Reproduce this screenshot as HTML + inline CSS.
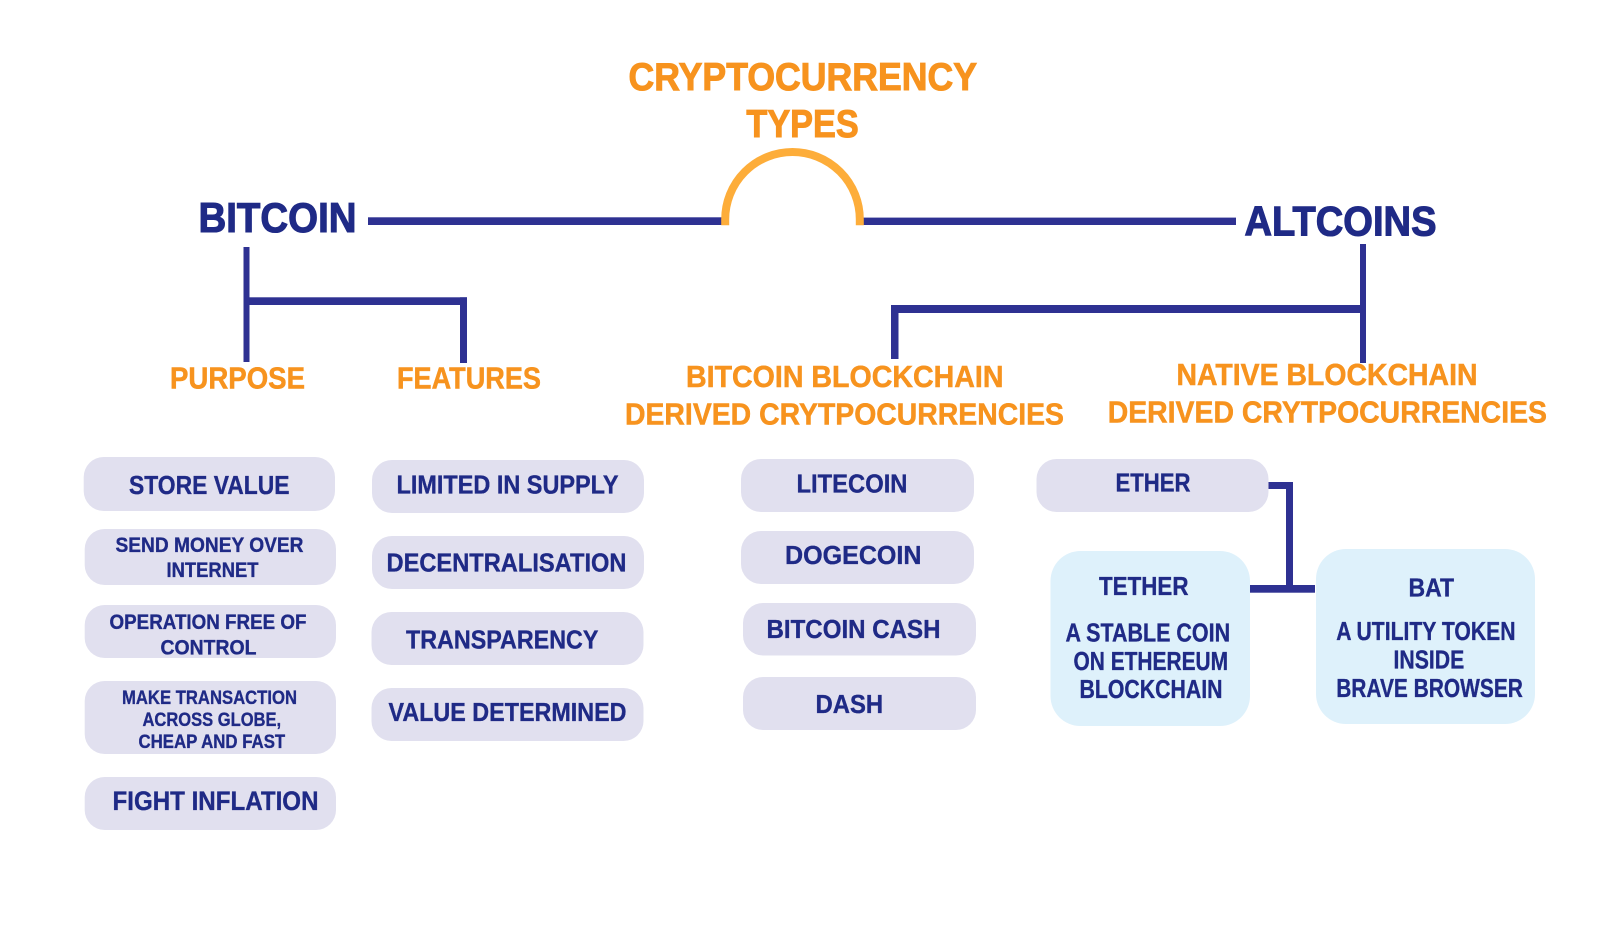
<!DOCTYPE html>
<html lang="en">
<head>
<meta charset="utf-8">
<title>Cryptocurrency Types</title>
<style>
html,body{margin:0;padding:0;background:#fff;}
svg{display:block;}
text{font-family:"Liberation Sans",sans-serif;font-weight:bold;paint-order:stroke;}
.o{fill:#f7931e;stroke:#f7931e;stroke-width:.5;}
.n{fill:#1f2a86;stroke:#1f2a86;stroke-width:.35;}
.h{stroke-width:1.1;}
.t{stroke-width:1;}
.l{fill:#2e3192;}
.p{fill:#e1e0ef;}
.b{fill:#def1fb;}
</style>
</head>
<body>
<svg width="1600" height="941" viewBox="0 0 1600 941" xmlns="http://www.w3.org/2000/svg">
<rect width="1600" height="941" fill="#ffffff"/>

<!-- connectors -->
<rect class="l" x="368" y="217.3" width="354" height="7.7"/>
<rect class="l" x="862" y="217.6" width="374" height="7.4"/>
<path d="M725.2 225.3V219.3A67.3 67.3 0 0 1 859.8 219.3V225.3" fill="none" stroke="#fdad3a" stroke-width="8"/>

<rect class="l" x="243.5" y="247" width="6" height="115"/>
<rect class="l" x="249" y="297.3" width="218" height="7.7"/>
<rect class="l" x="460" y="297.3" width="7" height="65.7"/>

<rect class="l" x="1360" y="244" width="6" height="119"/>
<rect class="l" x="891" y="305" width="469" height="8"/>
<rect class="l" x="891" y="305" width="7.5" height="54"/>

<rect class="l" x="1268" y="482" width="25" height="7"/>
<rect class="l" x="1286" y="482" width="7" height="103"/>
<rect class="l" x="1250" y="585" width="65" height="7.7"/>

<!-- pills -->
<rect class="p" x="83.7" y="457" width="251.3" height="54" rx="20"/>
<rect class="p" x="84.7" y="529" width="251.3" height="56" rx="20"/>
<rect class="p" x="84.7" y="605" width="251.3" height="53" rx="20"/>
<rect class="p" x="84.7" y="681" width="251.3" height="73" rx="20"/>
<rect class="p" x="84.7" y="777" width="251.3" height="53" rx="20"/>

<rect class="p" x="372" y="460" width="272" height="53" rx="20"/>
<rect class="p" x="372" y="536" width="272" height="53" rx="20"/>
<rect class="p" x="371.5" y="612" width="272" height="53" rx="20"/>
<rect class="p" x="371.5" y="688" width="272" height="53" rx="20"/>

<rect class="p" x="741" y="459" width="233" height="53" rx="20"/>
<rect class="p" x="741" y="531" width="233" height="53" rx="20"/>
<rect class="p" x="743" y="603" width="233" height="52.5" rx="20"/>
<rect class="p" x="743" y="677" width="233" height="53" rx="20"/>

<rect class="p" x="1036.5" y="459" width="232" height="53" rx="20"/>

<rect class="b" x="1050.5" y="551" width="199.5" height="175" rx="30"/>
<rect class="b" x="1316" y="549" width="219" height="175" rx="30"/>

<!-- headings -->
<text class="o t" x="628.5" y="90" font-size="39" textLength="348.5" lengthAdjust="spacingAndGlyphs">CRYPTOCURRENCY</text>
<text class="o t" x="746.4" y="137" font-size="39" textLength="112.3" lengthAdjust="spacingAndGlyphs">TYPES</text>

<text class="n h" x="198.5" y="232" font-size="42" textLength="158" lengthAdjust="spacingAndGlyphs">BITCOIN</text>
<text class="n h" x="1244.5" y="235.5" font-size="42" textLength="192" lengthAdjust="spacingAndGlyphs">ALTCOINS</text>

<text class="o" x="170" y="388.5" font-size="31" textLength="135" lengthAdjust="spacingAndGlyphs">PURPOSE</text>
<text class="o" x="397" y="388.5" font-size="31" textLength="144" lengthAdjust="spacingAndGlyphs">FEATURES</text>
<text class="o" x="686" y="387" font-size="31" textLength="317.5" lengthAdjust="spacingAndGlyphs">BITCOIN BLOCKCHAIN</text>
<text class="o" x="625" y="424.5" font-size="31" textLength="439" lengthAdjust="spacingAndGlyphs">DERIVED CRYTPOCURRENCIES</text>
<text class="o" x="1176.5" y="385" font-size="31" textLength="301" lengthAdjust="spacingAndGlyphs">NATIVE BLOCKCHAIN</text>
<text class="o" x="1107.7" y="422.5" font-size="31" textLength="439.3" lengthAdjust="spacingAndGlyphs">DERIVED CRYTPOCURRENCIES</text>

<!-- column 1 -->
<text class="n" x="129" y="494" font-size="26" textLength="160.5" lengthAdjust="spacingAndGlyphs">STORE VALUE</text>
<text class="n" x="115.5" y="552" font-size="21" textLength="188" lengthAdjust="spacingAndGlyphs">SEND MONEY OVER</text>
<text class="n" x="166.5" y="577" font-size="21" textLength="92" lengthAdjust="spacingAndGlyphs">INTERNET</text>
<text class="n" x="109.5" y="629" font-size="21" textLength="197" lengthAdjust="spacingAndGlyphs">OPERATION FREE OF</text>
<text class="n" x="160.5" y="654.3" font-size="21" textLength="96" lengthAdjust="spacingAndGlyphs">CONTROL</text>
<text class="n" x="122" y="704" font-size="19.5" textLength="175" lengthAdjust="spacingAndGlyphs">MAKE TRANSACTION</text>
<text class="n" x="142.5" y="726" font-size="19.5" textLength="138.6" lengthAdjust="spacingAndGlyphs">ACROSS GLOBE,</text>
<text class="n" x="138.5" y="748" font-size="19.5" textLength="146.7" lengthAdjust="spacingAndGlyphs">CHEAP AND FAST</text>
<text class="n" x="112.5" y="810" font-size="27" textLength="206" lengthAdjust="spacingAndGlyphs">FIGHT INFLATION</text>

<!-- column 2 -->
<text class="n" x="396.5" y="493.7" font-size="26" textLength="222" lengthAdjust="spacingAndGlyphs">LIMITED IN SUPPLY</text>
<text class="n" x="386.5" y="571.3" font-size="26" textLength="240" lengthAdjust="spacingAndGlyphs">DECENTRALISATION</text>
<text class="n" x="406" y="648.7" font-size="26" textLength="192.4" lengthAdjust="spacingAndGlyphs">TRANSPARENCY</text>
<text class="n" x="388.5" y="721" font-size="26" textLength="238" lengthAdjust="spacingAndGlyphs">VALUE DETERMINED</text>

<!-- column 3 -->
<text class="n" x="796.5" y="492.7" font-size="26" textLength="111" lengthAdjust="spacingAndGlyphs">LITECOIN</text>
<text class="n" x="785" y="564" font-size="26" textLength="136.5" lengthAdjust="spacingAndGlyphs">DOGECOIN</text>
<text class="n" x="766.5" y="638" font-size="26" textLength="174" lengthAdjust="spacingAndGlyphs">BITCOIN CASH</text>
<text class="n" x="815.5" y="713" font-size="26" textLength="67.6" lengthAdjust="spacingAndGlyphs">DASH</text>

<!-- column 4 -->
<text class="n" x="1115.5" y="491.7" font-size="26" textLength="75" lengthAdjust="spacingAndGlyphs">ETHER</text>

<text class="n" x="1099" y="595" font-size="26" textLength="89.5" lengthAdjust="spacingAndGlyphs">TETHER</text>
<text class="n" x="1065.5" y="641.3" font-size="26" textLength="164.6" lengthAdjust="spacingAndGlyphs">A STABLE COIN</text>
<text class="n" x="1073.5" y="670" font-size="26" textLength="154.6" lengthAdjust="spacingAndGlyphs">ON ETHEREUM</text>
<text class="n" x="1079.5" y="698" font-size="26" textLength="143" lengthAdjust="spacingAndGlyphs">BLOCKCHAIN</text>

<text class="n" x="1408.5" y="596.3" font-size="26" textLength="45.6" lengthAdjust="spacingAndGlyphs">BAT</text>
<text class="n" x="1336.2" y="640" font-size="26" textLength="179.3" lengthAdjust="spacingAndGlyphs">A UTILITY TOKEN</text>
<text class="n" x="1393.5" y="668.7" font-size="26" textLength="70.8" lengthAdjust="spacingAndGlyphs">INSIDE</text>
<text class="n" x="1336.2" y="697" font-size="26" textLength="186.7" lengthAdjust="spacingAndGlyphs">BRAVE BROWSER</text>
</svg>
</body>
</html>
